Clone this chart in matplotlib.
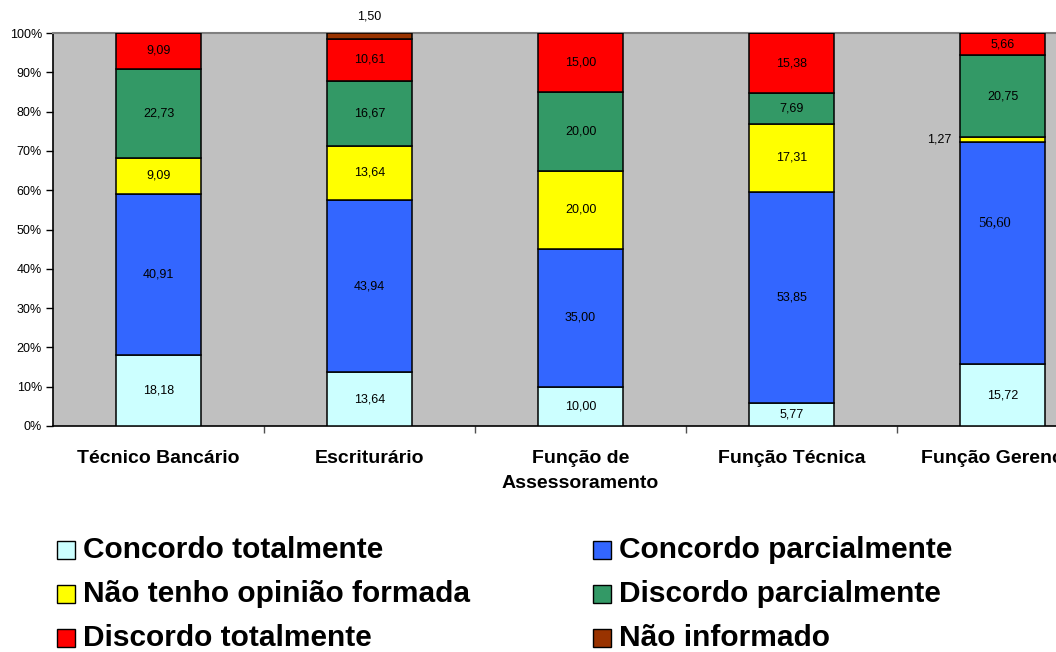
import matplotlib
matplotlib.use("Agg")
import matplotlib.pyplot as plt
from matplotlib.patches import Rectangle
import numpy as np

categories = ["Técnico Bancário", "Escriturário", "Função de\nAssessoramento",
              "Função Técnica", "Função Gerencial"]
series_names = ["Concordo totalmente", "Concordo parcialmente",
                "Não tenho opinião formada", "Discordo parcialmente",
                "Discordo totalmente", "Não informado"]
concordo_totalmente = [18.18, 13.64, 10.00, 5.77, 15.72]
concordo_parcialmente = [40.91, 43.94, 35.00, 53.85, 56.60]
nao_tenho_opiniao = [9.09, 13.64, 20.00, 17.31, 1.27]
discordo_parcialmente = [22.73, 16.67, 20.00, 7.69, 20.75]
discordo_totalmente = [9.09, 10.61, 15.00, 15.38, 5.66]
nao_informado = [0, 1.50, 0, 0, 0]
colors = ["#CCFFFF", "#3366FF", "#FFFF00", "#339966", "#FF0000", "#993300"]
yticks = [0, 10, 20, 30, 40, 50, 60, 70, 80, 90, 100]
ytick_labels = [f"{v}%" for v in yticks]

series = [concordo_totalmente, concordo_parcialmente, nao_tenho_opiniao,
          discordo_parcialmente, discordo_totalmente, nao_informado]

W, H = 1056, 652
fig = plt.figure(figsize=(W / 100, H / 100), dpi=100)
plt.rcParams["font.family"] = ["Liberation Sans", "DejaVu Sans"]

# axes extends beyond right edge of figure (as in the reference)
left_px, right_px, top_px, bot_px = 53, 1108, 33, 426
ax = fig.add_axes([left_px / W, (H - bot_px) / H, (right_px - left_px) / W,
                   (bot_px - top_px) / H])
ax.set_facecolor("#C0C0C0")

x = np.arange(len(categories))
bottom = np.zeros(len(categories))
# label special placements: (series index, category index) -> (x offset, y position)
special = {(5, 1): (0.0, 104.3), (2, 4): (-0.30, None), (1, 4): (-0.04, 51.7)}
for si, vals in enumerate(series):
    vals = np.array(vals, dtype=float)
    ax.bar(x, vals, width=0.40, bottom=bottom, color=colors[si],
           edgecolor="black", linewidth=1.1, zorder=3)
    for ci, v in enumerate(vals):
        if v <= 0:
            continue
        cx = x[ci]
        cy = bottom[ci] + v / 2
        if (si, ci) in special:
            dx, yy = special[(si, ci)]
            cx += dx
            if yy is not None:
                cy = yy
        if (si, ci) == (1, 4):
            fam, fs = ["Liberation Serif"], 10.5
        else:
            fam, fs = ["Liberation Sans"], 9
        ax.text(cx, cy, f"{v:.2f}".replace(".", ","), ha="center", va="center",
                fontsize=fs, family=fam, color="black", zorder=4, clip_on=False)
    bottom += vals

ax.set_xlim(-0.5, len(categories) - 0.5)
ax.set_ylim(0, 100)
ax.set_yticks(yticks)
ax.set_yticklabels(ytick_labels, fontsize=9)
ax.tick_params(axis="y", direction="out", length=5, width=1, pad=3)

ax.set_xticks(x)
ax.set_xticklabels(categories, fontsize=14, fontweight="bold", linespacing=1.62)
ax.tick_params(axis="x", which="major", length=0, pad=17)
ax.set_xticks(np.arange(0.5, len(categories) - 0.5, 1), minor=True)
ax.tick_params(axis="x", which="minor", direction="out", length=5, width=1,
               color="#505050")

for s in ["top", "right"]:
    ax.spines[s].set_color("#808080")
    ax.spines[s].set_linewidth(1.5)
ax.spines["left"].set_color("black")
ax.spines["bottom"].set_color("black")
ax.spines["left"].set_linewidth(1.2)
ax.spines["bottom"].set_linewidth(1.2)

# legend drawn manually in figure pixel coords
col_x = [57, 593]
row_base = [558, 602, 646]
sq = 18
for i, name in enumerate(series_names):
    r, c = i // 2, i % 2
    x0 = col_x[c]
    yb = row_base[r]
    rect = Rectangle((x0 / W, (H - (yb + 1)) / H), sq / W, sq / H,
                     transform=fig.transFigure, facecolor=colors[i],
                     edgecolor="black", linewidth=1.0)
    fig.patches.append(rect)
    fig.text((x0 + 26) / W, (H - yb) / H, name, fontsize=21.5,
             fontweight="bold", ha="left", va="baseline")

fig.savefig("out.png", dpi=100)
